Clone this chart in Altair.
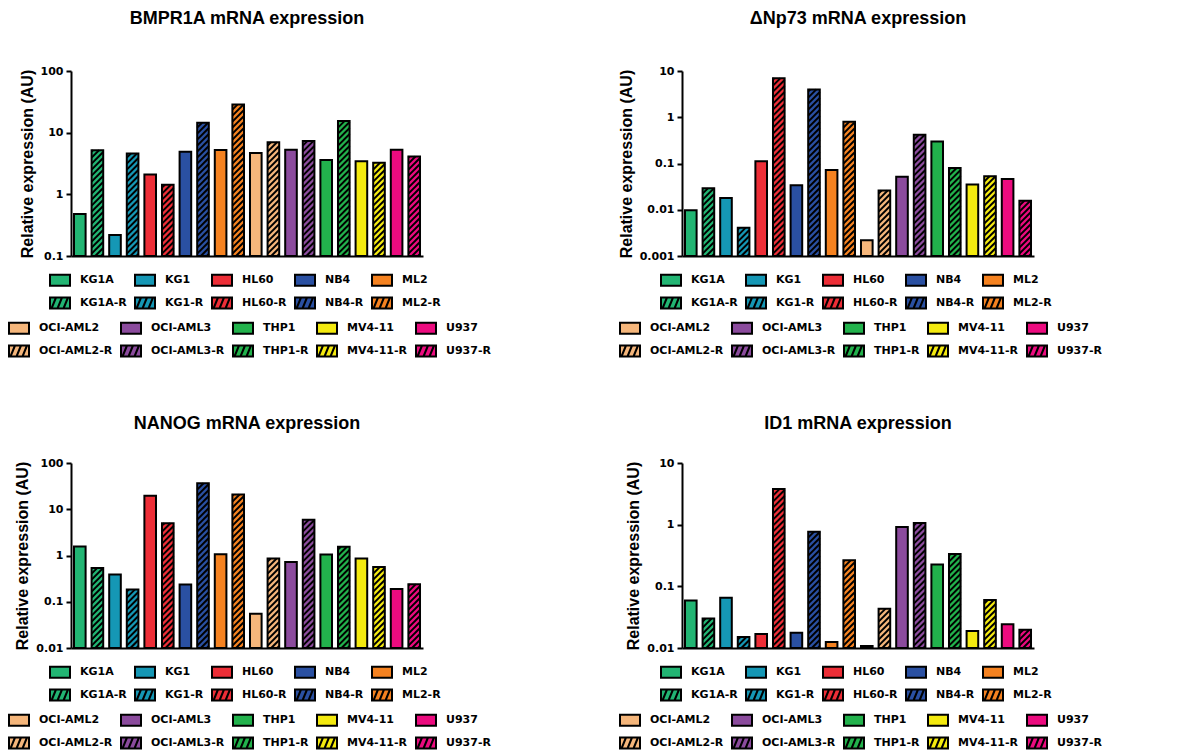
import numpy as np
import pandas as pd
import altair as alt

# ---------------- data ----------------
lines = ["KG1A", "KG1", "HL60", "NB4", "ML2", "OCI-AML2", "OCI-AML3", "THP1", "MV4-11", "U937"]
palette = ["#22b573", "#1597b5", "#ed2e37", "#2a50a2", "#f58220",
           "#f5b67b", "#8b4b9d", "#22b24c", "#f4ea0f", "#ec0b7f"]

# bar order: each cell line followed by its resistant (-R) counterpart
bmpr1a = [0.48, 5.2, 0.22, 4.6, 2.1, 1.43, 4.9, 14.5, 5.25, 28.5,
          4.7, 7.0, 5.3, 7.3, 3.6, 15.4, 3.45, 3.25, 5.3, 4.1]
dnp73 = [0.0097, 0.029, 0.018, 0.0041, 0.112, 7.0, 0.034, 4.0, 0.072, 0.80,
         0.0022, 0.026, 0.052, 0.42, 0.30, 0.080, 0.035, 0.053, 0.046, 0.0157]
nanog = [1.57, 0.54, 0.39, 0.183, 19.6, 5.0, 0.235, 36.5, 1.07, 20.9,
         0.055, 0.86, 0.72, 5.95, 1.05, 1.55, 0.86, 0.565, 0.189, 0.24]
id1 = [0.059, 0.030, 0.0655, 0.0151, 0.0169, 3.8, 0.0177, 0.77, 0.0125, 0.264,
       0.0108, 0.0435, 0.92, 1.06, 0.227, 0.334, 0.0189, 0.060, 0.0242, 0.0198]

titles = ["BMPR1A mRNA expression", "ΔNp73 mRNA expression",
          "NANOG mRNA expression", "ID1 mRNA expression"]
series = [bmpr1a, dnp73, nanog, id1]
domains = [(0.1, 100), (0.001, 10), (0.01, 100), (0.01, 10)]
title_offsets = [37, 37, 24, 24]

# ---------------- layout constants ----------------
W, H = 352, 185
NB = 2 * len(lines)
PPX = W / NB
HALF = 0.33
PITCH = 6.0

RECT = "M-1,-0.55H1V0.55H-1Z"
HATCH = RECT + "M-0.85,0.55L-0.4,-0.55M-0.25,0.55L0.2,-0.55M0.35,0.55L0.8,-0.55"

TITLE_FONT = "Liberation Sans"
LABEL_FONT = "DejaVu Sans"


def bar_table(values):
    rows = []
    for i, ln in enumerate(lines):
        for r in (0, 1):
            idx = 2 * i + r
            rows.append(dict(name=ln + ("-R" if r else ""), idx=idx, v=values[idx],
                             fill=palette[i], hatched=bool(r)))
    return pd.DataFrame(rows)


def hatch_table(df, lo, hi):
    ppd = H / (np.log10(hi) - np.log10(lo))
    w = 2 * HALF * PPX
    rows = []
    for _, r in df[df.hatched].iterrows():
        U = (np.log10(r.v) - np.log10(lo)) * ppd
        for c in np.arange(-w + 2.0, U, PITCH):
            t0 = max(0.0, -c)
            t1 = min(w, U - c)
            if t1 - t0 < 0.6:
                continue
            rows.append(dict(xa=r.idx - HALF + t0 / PPX, xb=r.idx - HALF + t1 / PPX,
                             ya=lo * 10 ** ((c + t0) / ppd), yb=lo * 10 ** ((c + t1) / ppd)))
    return pd.DataFrame(rows)


def legend_layer(df, block, lx, ly, xs, ys, xaxis, yaxis):
    # legend entries fill column by column: plain line above its -R counterpart
    names, cols, shapes = [], [], []
    for n in block:
        c = palette[lines.index(n)]
        names += [n, n + "-R"]
        cols += [c, c]
        shapes += [RECT, HATCH]
    leg = alt.Legend(title=None, orient="none", legendX=lx, legendY=ly, columns=5,
                     symbolSize=400, symbolStrokeWidth=2, symbolStrokeColor="black",
                     labelFont=LABEL_FONT, labelFontSize=11, labelFontWeight="bold",
                     labelColor="black", labelOffset=9, columnPadding=4, rowPadding=2,
                     labelLimit=200)
    return (alt.Chart(df).transform_filter("datum.idx < 0")
            .mark_point(filled=True, stroke="black", strokeWidth=2, opacity=1)
            .encode(x=alt.X("x0:Q", scale=xs, axis=xaxis),
                    y=alt.Y("v:Q", scale=ys, axis=yaxis),
                    color=alt.Color("name:N", scale=alt.Scale(domain=names, range=cols), legend=leg),
                    shape=alt.Shape("name:N", scale=alt.Scale(domain=names, range=shapes), legend=leg)))


def panel(title, values, lo, hi, toff):
    df = bar_table(values)
    df["x0"] = df.idx - HALF
    df["x1"] = df.idx + HALF
    df["base"] = lo
    ticks = [10.0 ** k for k in range(int(round(np.log10(lo))), int(round(np.log10(hi))) + 1)]
    xs = alt.Scale(domain=[-0.5, NB - 0.5], nice=False, zero=False)
    ys = alt.Scale(type="log", domain=[lo, hi], nice=False)
    yaxis = alt.Axis(values=ticks, format="~g", title="Relative expression (AU)",
                     titleFont=TITLE_FONT, titleFontSize=16, titleFontWeight="bold",
                     titleColor="black", titlePadding=5,
                     labelFont=LABEL_FONT, labelFontSize=11, labelFontWeight="bold",
                     labelColor="black", labelPadding=3, labelFlush=False, labelOverlap=False,
                     tickSize=5, tickWidth=2, tickColor="black",
                     domainWidth=2, domainColor="black", grid=False)
    xaxis = alt.Axis(title=None, labels=False, ticks=False, grid=False,
                     domainWidth=2, domainColor="black")
    base = alt.Chart(df)
    bars = base.mark_rect().encode(
        x=alt.X("x0:Q", scale=xs, axis=xaxis), x2="x1",
        y=alt.Y("v:Q", scale=ys, axis=yaxis), y2="base",
        fill=alt.Fill("fill:N", scale=None))
    hatch = alt.Chart(hatch_table(df, lo, hi)).mark_rule(color="black", strokeWidth=2).encode(
        x=alt.X("xa:Q", scale=xs, axis=xaxis), x2="xb",
        y=alt.Y("ya:Q", scale=ys, axis=yaxis), y2="yb")
    outline = base.mark_rect(fillOpacity=0, stroke="black", strokeWidth=2).encode(
        x=alt.X("x0:Q", scale=xs, axis=xaxis), x2="x1",
        y=alt.Y("v:Q", scale=ys, axis=yaxis), y2="base")
    legA = legend_layer(df, lines[:5], -22, 198, xs, ys, xaxis, yaxis)
    legB = legend_layer(df, lines[5:], -63, 246, xs, ys, xaxis, yaxis)
    return (alt.layer(bars, hatch, outline, legA, legB)
            .resolve_scale(color="independent", shape="independent")
            .properties(width=W, height=H,
                        title=alt.TitleParams(title, font=TITLE_FONT, fontSize=18,
                                              fontWeight="bold", color="black",
                                              anchor="middle", frame="group", offset=toff)))


panels = [panel(t, s, d[0], d[1], o) for t, s, d, o in zip(titles, series, domains, title_offsets)]

chart = (alt.concat(*panels, columns=2, spacing={"row": 207, "column": 259}, bounds="flush")
         .properties(padding={"left": 0, "top": 2, "right": 0, "bottom": 0},
                     background="white")
         .configure_view(stroke=None))

chart.save("out.html", embed_options={"renderer": "svg", "actions": False})
